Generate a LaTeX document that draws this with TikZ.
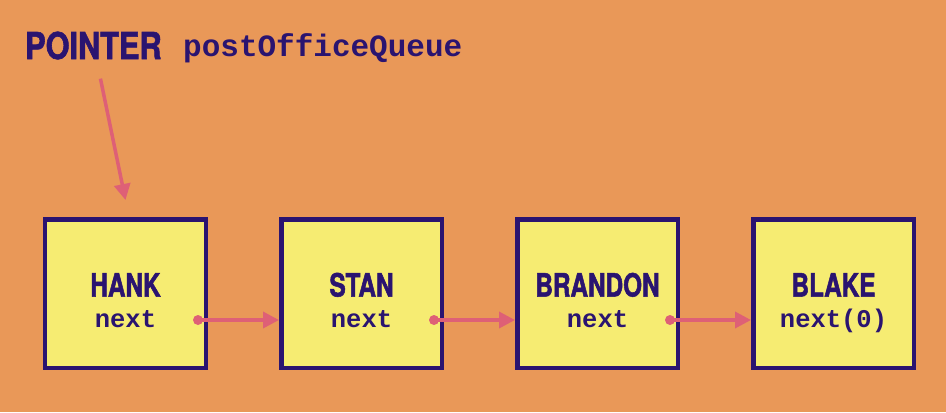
\documentclass[tikz,border=0pt]{standalone}
\usepackage{fontspec}
\usepackage{xcolor}
\usetikzlibrary{positioning,arrows.meta}

\newfontfamily\namefont[FakeStretch=0.76,FakeBold=1.6]{TeX Gyre Heros}
\newfontfamily\pointerfont[FakeStretch=0.83,FakeBold=1.6]{TeX Gyre Heros}
\newfontfamily\codefont{Liberation Mono}

\definecolor{bgorange}{RGB}{233,152,88}
\definecolor{cellyellow}{RGB}{246,236,114}
\definecolor{inkpurple}{RGB}{42,20,112}
\definecolor{linkpink}{RGB}{222,96,118}

\begin{document}
\begin{tikzpicture}[
  x=1bp, y=-1bp,
  cell/.style={rectangle, draw=inkpurple, fill=cellyellow, line width=4.5bp,
    minimum width=160.5bp, minimum height=148.5bp, inner sep=0pt},
  cellname/.style={inner sep=0pt, anchor=base, text=inkpurple,
    font=\namefont\bfseries\fontsize{32bp}{32bp}\selectfont},
  cellfield/.style={inner sep=0pt, anchor=base, text=inkpurple,
    font=\codefont\bfseries\fontsize{25.5bp}{25.5bp}\selectfont},
  link/.style={draw=linkpink, line width=3.5bp,
    -{Triangle[length=16bp,width=16bp]}},
  node distance=71bp
]

% ── Background ──
\fill[bgorange] (0,0) rectangle (946,412);
\useasboundingbox (0,0) rectangle (946,412);

% ── Pointer label ──
\node[inner sep=0pt, anchor=base west, text=inkpurple,
  font=\pointerfont\bfseries\fontsize{37bp}{37bp}\selectfont]
  (ptr) at (25,59) {POINTER};
\node[inner sep=0pt, anchor=base west, text=inkpurple,
  font=\codefont\bfseries\fontsize{31bp}{31bp}\selectfont]
  (queue) at (183,56) {postOfficeQueue};

% ── Cells ──
\node[cell]                   (hank)    at (125.5,293.5) {};
\node[cell, right=of hank]    (stan)    {};
\node[cell, right=of stan]    (brandon) {};
\node[cell, right=of brandon] (blake)   {};

% ── Cell texts ──
\node[cellname]  (hank-name)    at ([yshift=-3bp]hank.center)     {HANK};
\node[cellfield] (hank-next)    at ([yshift=-34bp]hank.center)    {next};
\node[cellname]  (stan-name)    at ([yshift=-3bp]stan.center)     {STAN};
\node[cellfield] (stan-next)    at ([yshift=-34bp]stan.center)    {next};
\node[cellname]  (brandon-name) at ([yshift=-3bp]brandon.center)  {BRANDON};
\node[cellfield] (brandon-next) at ([yshift=-34bp]brandon.center) {next};
\node[cellname]  (blake-name)   at ([yshift=-3bp]blake.center)    {BLAKE};
\node[cellfield] (blake-next)   at ([yshift=-34bp]blake.center)   {next(0)};

% ── Next pointers ──
\coordinate (hank-dot)    at ([xshift=-10bp,yshift=-26.5bp]hank.east);
\coordinate (stan-dot)    at ([xshift=-10bp,yshift=-26.5bp]stan.east);
\coordinate (brandon-dot) at ([xshift=-10bp,yshift=-26.5bp]brandon.east);

\fill[linkpink] (hank-dot) circle (5bp);
\draw[link] (hank-dot) -- (stan.west |- hank-dot);
\fill[linkpink] (stan-dot) circle (5bp);
\draw[link] (stan-dot) -- (brandon.west |- stan-dot);
\fill[linkpink] (brandon-dot) circle (5bp);
\draw[link] (brandon-dot) -- (blake.west |- brandon-dot);

% ── Head pointer ──
\draw[link] ([xshift=7bp,yshift=-19bp]ptr.south)
  -- ([yshift=17bp]hank.north);

\end{tikzpicture}
\end{document}
